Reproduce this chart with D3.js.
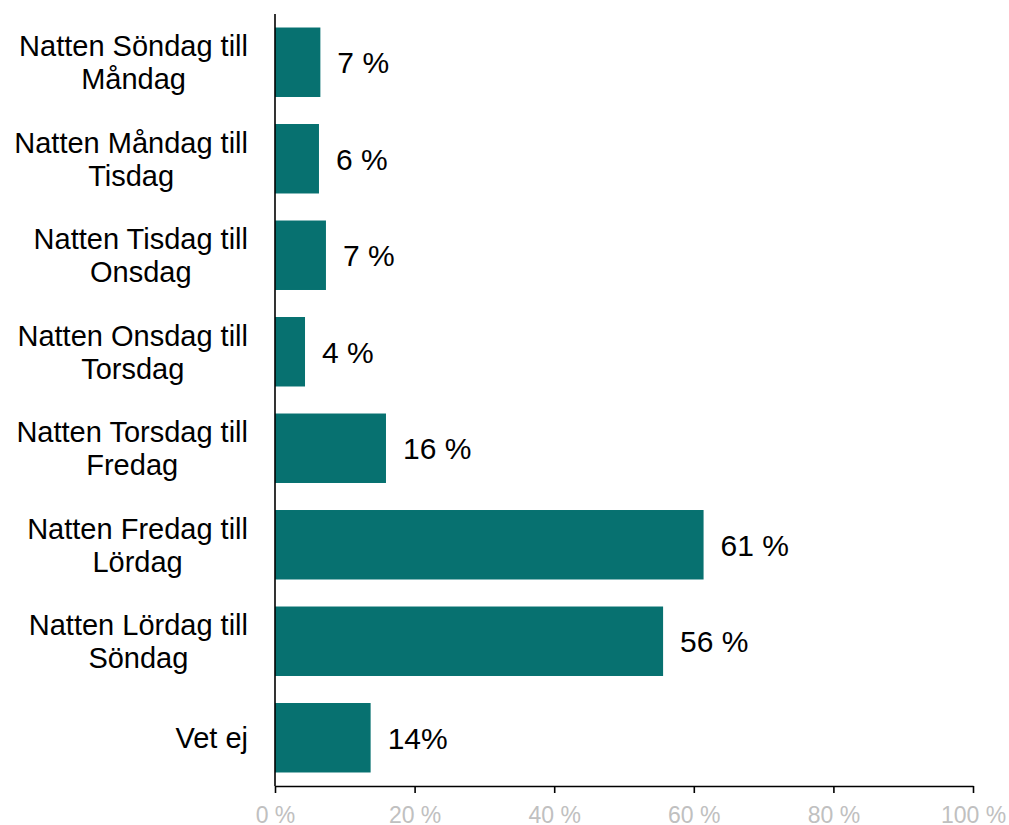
<!DOCTYPE html>
<html>
<head>
<meta charset="utf-8">
<script src="https://cdn.jsdelivr.net/npm/d3@7"></script>
<style>
  body { margin: 0; background: #fff; }
  text { font-family: "Liberation Sans", Arial, sans-serif; }
</style>
</head>
<body>
<script>
var width = 1009;
var height = 825;

// data
var categories = [
    "Natten Söndag till\nMåndag",
    "Natten Måndag till\nTisdag",
    "Natten Tisdag till\nOnsdag",
    "Natten Onsdag till\nTorsdag",
    "Natten Torsdag till\nFredag",
    "Natten Fredag till\nLördag",
    "Natten Lördag till\nSöndag",
    "Vet ej"
];
var values = [6.5, 6.3, 7.3, 4.3, 15.9, 61.4, 55.6, 13.7];
var valueLabels = ["7 %", "6 %", "7 %", "4 %", "16 %", "61 %", "56 %", "14%"];
var tickValues = [0, 20, 40, 60, 80, 100];
var tickLabels = ["0 %", "20 %", "40 %", "60 %", "80 %", "100 %"];

// plot edges (window.top is reserved, hence the names)
var plotLeft = 275, plotRight = 973, plotTop = 14, plotBottom = 786;

var svg = d3.select("body").append("svg")
    .attr("width", width)
    .attr("height", height);

var x = d3.scaleLinear().domain([0, 100]).range([plotLeft, plotRight]);
var y = d3.scaleBand().domain(categories).range([plotTop, plotBottom])
    .paddingInner(0.28).paddingOuter(0.14);

// bars
svg.selectAll(".bar").data(values).enter()
    .append("rect")
    .classed("bar", true)
    .attr("x", x(0))
    .attr("y", function(d, i) { return y(categories[i]); })
    .attr("width", function(d) { return x(d) - x(0); })
    .attr("height", y.bandwidth())
    .attr("fill", "#077170");

// value labels
svg.selectAll(".val").data(values).enter()
    .append("text")
    .classed("val", true)
    .attr("x", function(d) { return x(d) + 17; })
    .attr("y", function(d, i) { return y(categories[i]) + y.bandwidth() / 2; })
    .attr("dy", "0.36em")
    .style("font-size", "30px")
    .attr("fill", "#000")
    .text(function(d, i) { return valueLabels[i]; });

// x axis
var xAxis = d3.axisBottom(x)
    .tickValues(tickValues)
    .tickSize(7)
    .tickSizeOuter(0)
    .tickFormat(function(d, i) { return tickLabels[i]; });

var gx = svg.append("g")
    .attr("transform", "translate(0," + plotBottom + ")")
    .call(xAxis);
gx.select(".domain").attr("stroke", "#000").attr("stroke-width", 1.6);
gx.selectAll(".tick line").attr("stroke", "#000").attr("stroke-width", 1.6);
gx.selectAll(".tick text")
    .attr("y", 21)
    .attr("dy", "0.7em")
    .attr("fill", "#c0c0c0")
    .style("font-size", "23px")
    .style("font-family", "'Liberation Sans', Arial, sans-serif");

// y axis line
svg.append("line")
    .attr("x1", plotLeft).attr("x2", plotLeft)
    .attr("y1", plotTop).attr("y2", plotBottom)
    .attr("stroke", "#000")
    .attr("stroke-width", 1.6);

// category labels, lines centred on each other, block right-aligned
var lineH = 33;
categories.forEach(function(c) {
    var lines = c.split("\n");
    var g = svg.append("g");
    var texts = lines.map(function(l, j) {
        return g.append("text")
            .style("font-size", "29px")
            .attr("text-anchor", "middle")
            .attr("fill", "#000")
            .attr("y", y(c) + y.bandwidth() / 2 + (j - (lines.length - 1) / 2) * lineH)
            .attr("dy", "0.36em")
            .text(l);
    });
    var maxW = d3.max(texts, function(t) { return t.node().getComputedTextLength(); });
    texts.forEach(function(t) { t.attr("x", plotLeft - 27 - maxW / 2); });
});
</script>
</body>
</html>
